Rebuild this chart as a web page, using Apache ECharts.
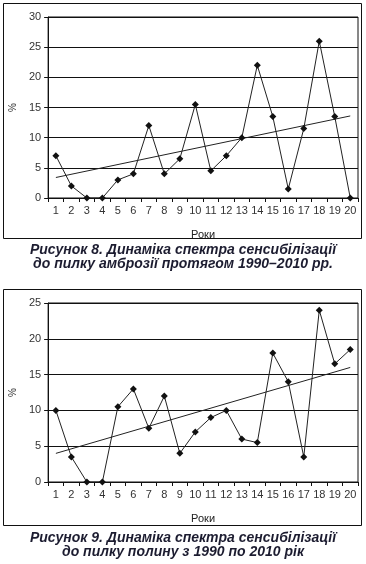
<!DOCTYPE html>
<html><head><meta charset="utf-8">
<script src="https://cdn.jsdelivr.net/npm/echarts@6/dist/echarts.min.js"></script>
<style>html,body{margin:0;padding:0;background:#fff}#c{width:366px;height:564px}</style>
</head><body><div id="c"></div>
<script>
const years = ['1','2','3','4','5','6','7','8','9','10','11','12','13','14','15','16','17','18','19','20'];
const ambrosia = [7,2,0,0,3,4,12,4,6.5,15.5,4.5,7,10,22,13.5,1.5,11.5,26,13.5,0];
const ambrosiaTrend = [3.4,13.6];
const wormwood = [10,3.5,0,0,10.5,13,7.5,12,4,7,9,10,6,5.5,18,14,3.5,24,16.5,18.5];
const wormwoodTrend = [4.0,16.0];
const yTicks1 = [0,5,10,15,20,25,30];
const yTicks2 = [0,5,10,15,20,25];
const caption1 = ['Рисунок 8. Динаміка спектра сенсибілізації','до пилку амброзії протягом 1990–2010 рр.'];
const caption2 = ['Рисунок 9. Динаміка спектра сенсибілізації','до пилку полину з 1990 по 2010 рік'];
const xName = 'Роки', yName = '%';

const chart = echarts.init(document.getElementById('c'), null, {renderer:'canvas'});
const ink = '#111';
function xAx(gi){
  return {type:'category', gridIndex:gi, data:years, boundaryGap:true,
    name:xName, nameLocation:'middle', nameGap:31,
    nameTextStyle:{fontFamily:'Liberation Sans', fontSize:11, color:'#222'},
    axisLine:{lineStyle:{color:ink,width:1}},
    axisTick:{show:true, length:4, interval:0, lineStyle:{color:ink}},
    axisLabel:{interval:0, margin:7, fontFamily:'Liberation Sans', fontSize:11, color:'#333'},
    splitLine:{show:false}};
}
function yAx(gi, ticks){
  return {type:'value', gridIndex:gi, min:ticks[0], max:ticks[ticks.length-1], interval:ticks[1]-ticks[0],
    name:yName, nameLocation:'middle', nameGap:26, nameRotate:90,
    nameTextStyle:{fontFamily:'Liberation Sans', fontSize:10, color:'#333'},
    axisLine:{show:true, lineStyle:{color:ink,width:1}},
    axisTick:{show:true, length:4, lineStyle:{color:ink}},
    axisLabel:{margin:7, fontFamily:'Liberation Sans', fontSize:11, color:'#333'},
    splitLine:{show:true, lineStyle:{color:ink,width:1}}};
}
function dataSeries(gi, vals){
  return {type:'line', xAxisIndex:gi, yAxisIndex:gi, data:vals, symbol:'diamond', symbolSize:7,
    itemStyle:{color:ink}, lineStyle:{color:'#222', width:1}, animation:false, z:3};
}
function trendSeries(gi, tr){
  return {type:'line', xAxisIndex:gi, yAxisIndex:gi, data:[[0,tr[0]],[years.length-1,tr[1]]],
    symbol:'none', lineStyle:{color:'#222', width:1}, animation:false, z:2};
}
const capStyle = {fontFamily:'Liberation Sans', fontSize:14, fontWeight:'bold', fontStyle:'italic', color:'#1c1c30', lineHeight:14};
chart.setOption({
  animation:false,
  grid:[
    {left:39, right:8, top:17, height:181, show:true, borderColor:ink, borderWidth:1, backgroundColor:'transparent'},
    {left:39, right:8, top:303, height:179, show:true, borderColor:ink, borderWidth:1, backgroundColor:'transparent'}
  ],
  xAxis:[xAx(0), xAx(1)],
  yAxis:[yAx(0, yTicks1), yAx(1, yTicks2)],
  series:[dataSeries(0, ambrosia), trendSeries(0, ambrosiaTrend), dataSeries(1, wormwood), trendSeries(1, wormwoodTrend)],
  title:[
    {text:caption1.join('\n'), left:'center', top:241, padding:[2,0,0,0], textStyle:capStyle},
    {text:caption2.join('\n'), left:'center', top:529, padding:[2,0,0,0], textStyle:capStyle}
  ],
  graphic:[
    {type:'rect', shape:{x:3.5,y:3.5,width:358,height:235}, style:{fill:'none', stroke:ink, lineWidth:1}, silent:true},
    {type:'rect', shape:{x:3.5,y:289.5,width:358,height:236}, style:{fill:'none', stroke:ink, lineWidth:1}, silent:true}
  ]
});
</script></body></html>
